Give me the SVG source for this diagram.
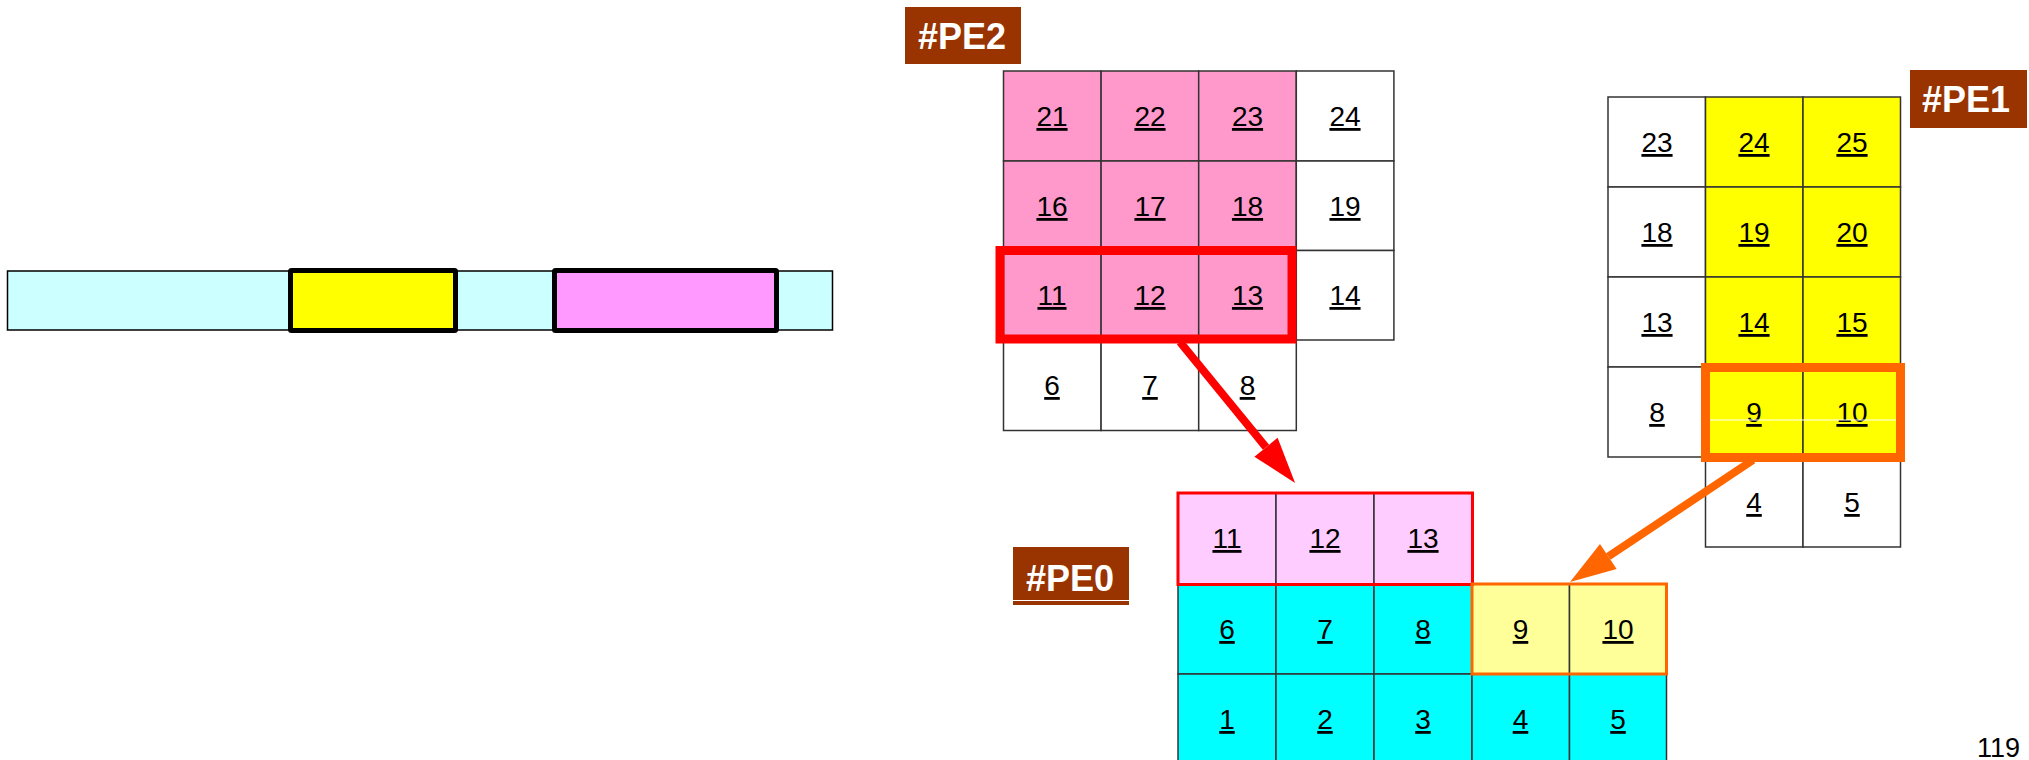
<svg xmlns="http://www.w3.org/2000/svg" width="2029" height="760" viewBox="0 0 2029 760">
<style>
.c{stroke:#333;stroke-width:1.5}
.w{fill:#fff}
.pk{fill:#FF99CC}
.ye{fill:#FFFF00}
.cy{fill:#00FFFF}
.lp{fill:#FFCCFF}
.ly{fill:#FFFF99}
.n{font-family:"Liberation Sans",Arial,sans-serif;font-size:28px;text-anchor:middle;text-decoration:underline;fill:#000}
.lbl{fill:#993300}
.lt{font-family:"Liberation Sans",Arial,sans-serif;font-size:36px;font-weight:bold;fill:#fff;text-anchor:middle}
</style>
<defs>
<marker id="ahR" markerUnits="userSpaceOnUse" markerWidth="47" markerHeight="31" refX="0" refY="15" orient="auto" overflow="visible">
<path d="M0,0 L46,15 L0,30 Z" fill="#FF0000"/>
</marker>
<marker id="ahO" markerUnits="userSpaceOnUse" markerWidth="47" markerHeight="31" refX="0" refY="15" orient="auto" overflow="visible">
<path d="M0,0 L46,15 L0,30 Z" fill="#FF6600"/>
</marker>
</defs>
<rect width="2029" height="760" fill="#fff"/>

<g id="bar">
<rect x="7.5" y="271" width="825" height="59" fill="#CCFFFF" stroke="#000" stroke-width="1.5"/>
<rect x="290.5" y="270.5" width="165" height="60" fill="#FFFF00" stroke="#000" stroke-width="5" rx="1"/>
<rect x="554.5" y="270.5" width="222" height="60" fill="#FF99FF" stroke="#000" stroke-width="5" rx="1"/>
</g>

<g id="label-PE2"><rect class="lbl" x="905" y="7" width="116" height="57"/><text class="lt" x="962" y="49">#PE2</text></g>
<g id="label-PE1"><rect class="lbl" x="1910" y="70" width="117" height="58"/><text class="lt" x="1966" y="112">#PE1</text></g>
<g id="label-PE0"><rect class="lbl" x="1013" y="547" width="116" height="53"/><rect class="lbl" x="1013" y="601" width="116" height="4"/><text class="lt" x="1070" y="591">#PE0</text></g>

<g id="PE2">
<g id="pe2-21"><rect class="c pk" x="1003.5" y="71" width="97.6" height="90"/><text class="n" x="1052" y="126">21</text></g>
<g id="pe2-22"><rect class="c pk" x="1101.1" y="71" width="97.6" height="90"/><text class="n" x="1150" y="126">22</text></g>
<g id="pe2-23"><rect class="c pk" x="1198.7" y="71" width="97.6" height="90"/><text class="n" x="1247.5" y="126">23</text></g>
<g id="pe2-24"><rect class="c w" x="1296.3" y="71" width="97.6" height="90"/><text class="n" x="1345" y="126">24</text></g>
<g id="pe2-16"><rect class="c pk" x="1003.5" y="161" width="97.6" height="89.5"/><text class="n" x="1052" y="216">16</text></g>
<g id="pe2-17"><rect class="c pk" x="1101.1" y="161" width="97.6" height="89.5"/><text class="n" x="1150" y="216">17</text></g>
<g id="pe2-18"><rect class="c pk" x="1198.7" y="161" width="97.6" height="89.5"/><text class="n" x="1247.5" y="216">18</text></g>
<g id="pe2-19"><rect class="c w" x="1296.3" y="161" width="97.6" height="89.5"/><text class="n" x="1345" y="216">19</text></g>
<g id="pe2-11"><rect class="c pk" x="1003.5" y="250.5" width="97.6" height="89.5"/><text class="n" x="1052" y="305">11</text></g>
<g id="pe2-12"><rect class="c pk" x="1101.1" y="250.5" width="97.6" height="89.5"/><text class="n" x="1150" y="305">12</text></g>
<g id="pe2-13"><rect class="c pk" x="1198.7" y="250.5" width="97.6" height="89.5"/><text class="n" x="1247.5" y="305">13</text></g>
<g id="pe2-14"><rect class="c w" x="1296.3" y="250.5" width="97.6" height="89.5"/><text class="n" x="1345" y="305">14</text></g>
<g id="pe2-6"><rect class="c w" x="1003.5" y="340" width="97.6" height="90.5"/><text class="n" x="1052" y="395">6</text></g>
<g id="pe2-7"><rect class="c w" x="1101.1" y="340" width="97.6" height="90.5"/><text class="n" x="1150" y="395">7</text></g>
<g id="pe2-8"><rect class="c w" x="1198.7" y="340" width="97.6" height="90.5"/><text class="n" x="1247.5" y="395">8</text></g>
<rect id="pe2-highlight" x="1000" y="250.5" width="292" height="88.5" fill="none" stroke="#FF0000" stroke-width="9"/>
</g>

<g id="PE1">
<g id="pe1-23"><rect class="c w" x="1608" y="97" width="97.5" height="90"/><text class="n" x="1657" y="152">23</text></g>
<g id="pe1-24"><rect class="c ye" x="1705.5" y="97" width="97.5" height="90"/><text class="n" x="1754" y="152">24</text></g>
<g id="pe1-25"><rect class="c ye" x="1803" y="97" width="97.5" height="90"/><text class="n" x="1852" y="152">25</text></g>
<g id="pe1-18"><rect class="c w" x="1608" y="187" width="97.5" height="90"/><text class="n" x="1657" y="242">18</text></g>
<g id="pe1-19"><rect class="c ye" x="1705.5" y="187" width="97.5" height="90"/><text class="n" x="1754" y="242">19</text></g>
<g id="pe1-20"><rect class="c ye" x="1803" y="187" width="97.5" height="90"/><text class="n" x="1852" y="242">20</text></g>
<g id="pe1-13"><rect class="c w" x="1608" y="277" width="97.5" height="90"/><text class="n" x="1657" y="332">13</text></g>
<g id="pe1-14"><rect class="c ye" x="1705.5" y="277" width="97.5" height="90"/><text class="n" x="1754" y="332">14</text></g>
<g id="pe1-15"><rect class="c ye" x="1803" y="277" width="97.5" height="90"/><text class="n" x="1852" y="332">15</text></g>
<g id="pe1-8"><rect class="c w" x="1608" y="367" width="97.5" height="90"/><text class="n" x="1657" y="422">8</text></g>
<g id="pe1-9"><rect class="c ye" x="1705.5" y="367" width="97.5" height="90"/><text class="n" x="1754" y="422">9</text></g>
<g id="pe1-10"><rect class="c ye" x="1803" y="367" width="97.5" height="90"/><text class="n" x="1852" y="422">10</text></g>
<g id="pe1-4"><rect class="c w" x="1705.5" y="457" width="97.5" height="90"/><text class="n" x="1754" y="512">4</text></g>
<g id="pe1-5"><rect class="c w" x="1803" y="457" width="97.5" height="90"/><text class="n" x="1852" y="512">5</text></g>
<line x1="1709" y1="420" x2="1897" y2="420" stroke="#fff" stroke-width="1"/>
<rect id="pe1-highlight" x="1705.5" y="367.5" width="195" height="90" fill="none" stroke="#FF6600" stroke-width="9"/>
</g>

<g id="PE0">
<g id="pe0-11"><rect class="c lp" x="1178" y="493" width="98" height="91"/><text class="n" x="1227" y="548">11</text></g>
<g id="pe0-12"><rect class="c lp" x="1276" y="493" width="98" height="91"/><text class="n" x="1325" y="548">12</text></g>
<g id="pe0-13"><rect class="c lp" x="1374" y="493" width="98" height="91"/><text class="n" x="1423" y="548">13</text></g>
<g id="pe0-6"><rect class="c cy" x="1178" y="584" width="98" height="90"/><text class="n" x="1227" y="639">6</text></g>
<g id="pe0-7"><rect class="c cy" x="1276" y="584" width="98" height="90"/><text class="n" x="1325" y="639">7</text></g>
<g id="pe0-8"><rect class="c cy" x="1374" y="584" width="98" height="90"/><text class="n" x="1423" y="639">8</text></g>
<g id="pe0-9"><rect class="c ly" x="1472" y="584" width="97.5" height="90"/><text class="n" x="1520.5" y="639">9</text></g>
<g id="pe0-10"><rect class="c ly" x="1569.5" y="584" width="97" height="90"/><text class="n" x="1618" y="639">10</text></g>
<g id="pe0-1"><rect class="c cy" x="1178" y="674" width="98" height="92"/><text class="n" x="1227" y="729">1</text></g>
<g id="pe0-2"><rect class="c cy" x="1276" y="674" width="98" height="92"/><text class="n" x="1325" y="729">2</text></g>
<g id="pe0-3"><rect class="c cy" x="1374" y="674" width="98" height="92"/><text class="n" x="1423" y="729">3</text></g>
<g id="pe0-4"><rect class="c cy" x="1472" y="674" width="97.5" height="92"/><text class="n" x="1520.5" y="729">4</text></g>
<g id="pe0-5"><rect class="c cy" x="1569.5" y="674" width="97" height="92"/><text class="n" x="1618" y="729">5</text></g>
<rect id="pe0-red" x="1178" y="493" width="294.5" height="91.5" fill="none" stroke="#FF0000" stroke-width="3"/>
<rect id="pe0-orange" x="1472" y="584" width="194.5" height="90" fill="none" stroke="#FF6600" stroke-width="3"/>
</g>

<g id="connectors">
<line x1="1180" y1="342" x2="1266" y2="447.3" stroke="#FF0000" stroke-width="8" marker-end="url(#ahR)"/>
<line x1="1753" y1="460" x2="1608.3" y2="556.5" stroke="#FF6600" stroke-width="8" marker-end="url(#ahO)"/>
</g>

<text x="2020" y="757" font-family="'Liberation Sans',Arial,sans-serif" font-size="27" text-anchor="end" fill="#000">119</text>
</svg>
